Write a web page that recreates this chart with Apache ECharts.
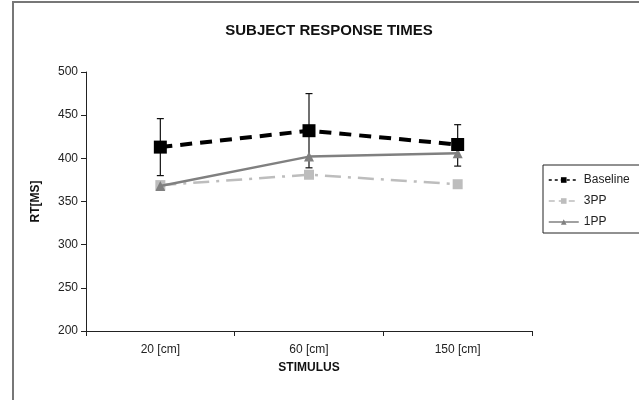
<!DOCTYPE html>
<html>
<head>
<meta charset="utf-8">
<script src="https://cdn.jsdelivr.net/npm/echarts@6/dist/echarts.min.js"></script>
<style>
html,body{margin:0;padding:0;background:#fff;}
#chart{width:639px;height:400px;}
</style>
</head>
<body>
<div id="chart"></div>
<script>
// 数据
var categories = ['20 [cm]', '60 [cm]', '150 [cm]'];
var baseline = [413, 432, 416];
var baselineLow = [380, 389, 391];
var baselineHigh = [446, 475, 439];
var pp3 = [369, 381, 370];
var pp1 = [368, 402, 406];
var yTicks = [200, 500, 50]; // [min,max,interval]

var font = 'Liberation Sans, Arial, sans-serif';
var myChart = echarts.init(document.getElementById('chart'));

// 误差线数据 [index, low, high]
var errData = [];
for (var i = 0; i < categories.length; i++) {
	errData.push([i, baselineLow[i], baselineHigh[i]]);
}

var option = {
	backgroundColor: '#fff',
	animation: false,
	title: {
		text: 'SUBJECT RESPONSE TIMES',
		left: 324, top: 18, textAlign: 'center',
		textStyle: {fontFamily: font, fontSize: 15, fontWeight: 'bold', color: '#111'}
	},
	grid: {left: 86, right: 107, top: 72, bottom: 69},
	legend: {
		orient: 'vertical', left: 543, top: 165,
		borderColor: '#222', borderWidth: 1,
		padding: [9, 30, 5, 5],
		itemWidth: 30, itemHeight: 7, itemGap: 9,
		textStyle: {fontFamily: font, fontSize: 12, color: '#222'},
		data: [
			{name: 'Baseline', lineStyle: {width: 1.5, type: [3, 3], color: '#000'}},
			{name: '3PP', lineStyle: {width: 1.5, type: [6, 4], color: '#bdbdbd'}},
			{name: '1PP', lineStyle: {width: 1.5, type: 'solid', color: '#808080'}}
		]
	},
	xAxis: {
		type: 'category', data: categories,
		name: 'STIMULUS', nameLocation: 'middle', nameGap: 31,
		nameTextStyle: {fontFamily: font, fontSize: 12, fontWeight: 'bold', color: '#111'},
		axisLine: {lineStyle: {color: '#222', width: 1}},
		axisTick: {show: true, length: 5, lineStyle: {color: '#222'}},
		axisLabel: {fontFamily: font, fontSize: 12, color: '#222', margin: 13}
	},
	yAxis: {
		type: 'value', min: yTicks[0], max: yTicks[1], interval: yTicks[2],
		name: 'RT[MS]', nameLocation: 'middle', nameGap: 44,
		nameTextStyle: {fontFamily: font, fontSize: 12, fontWeight: 'bold', color: '#111'},
		axisLine: {show: true, lineStyle: {color: '#222', width: 1}},
		axisTick: {show: true, length: 5, lineStyle: {color: '#222'}},
		axisLabel: {fontFamily: font, fontSize: 12, color: '#222', margin: 8},
		splitLine: {show: false}
	},
	graphic: [{
		type: 'rect', shape: {x: 13, y: 2, width: 700, height: 500},
		style: {fill: null, stroke: '#777', lineWidth: 2}, silent: true
	}],
	series: [
		{
			name: 'errbar', type: 'custom', z: 3,
			renderItem: function (params, api) {
				var x = api.coord([api.value(0), api.value(1)])[0];
				var lo = api.coord([api.value(0), api.value(1)])[1];
				var hi = api.coord([api.value(0), api.value(2)])[1];
				var cap = 3.5;
				var st = {stroke: '#111', lineWidth: 1.2};
				return {type: 'group', children: [
					{type: 'line', shape: {x1: x, y1: lo, x2: x, y2: hi}, style: st},
					{type: 'line', shape: {x1: x - cap, y1: lo, x2: x + cap, y2: lo}, style: st},
					{type: 'line', shape: {x1: x - cap, y1: hi, x2: x + cap, y2: hi}, style: st}
				]};
			},
			encode: {x: 0, y: [1, 2]},
			data: errData
		},
		{
			name: '3PP', type: 'line', z: 4, data: pp3,
			symbol: 'rect', symbolSize: 10,
			itemStyle: {color: '#bdbdbd'},
			lineStyle: {color: '#bdbdbd', width: 2.5, type: [16, 7, 3, 7]}
		},
		{
			name: '1PP', type: 'line', z: 5, data: pp1,
			symbol: 'triangle', symbolSize: 10,
			itemStyle: {color: '#808080'},
			lineStyle: {color: '#808080', width: 2.5, type: 'solid'}
		},
		{
			name: 'Baseline', type: 'line', z: 6, data: baseline,
			symbol: 'rect', symbolSize: 13,
			itemStyle: {color: '#000'},
			lineStyle: {color: '#000', width: 4, type: [12, 8]}
		}
	]
};
myChart.setOption(option);
</script>
</body>
</html>
